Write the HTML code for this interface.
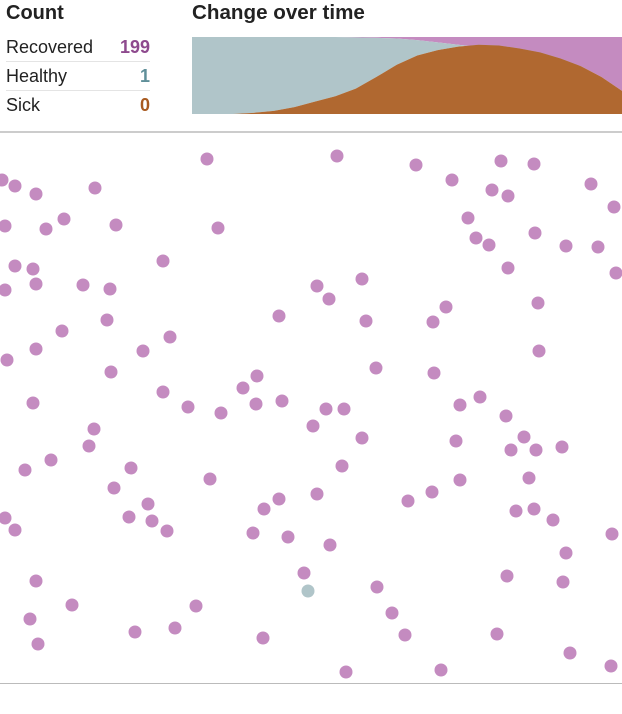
<!DOCTYPE html>
<html><head><meta charset="utf-8"><style>
body{margin:0;width:622px;height:714px;background:#fff;position:relative;overflow:hidden;font-family:"Liberation Sans Narrow","Liberation Sans",sans-serif;color:#222}
.h{position:absolute;top:2px;font-weight:bold;font-size:20px;transform-origin:0 0}
.row{position:absolute;left:6px;width:144px;height:28px;font-size:18px;line-height:28px;border-bottom:1px solid #e4e4e4}
.row b{position:absolute;right:0;top:0}
</style></head><body>
<div class="h" style="left:6px">Count</div>
<div class="h" style="left:192px;transform:scaleX(1.03)">Change over time</div>
<div class="row" style="top:33px">Recovered<b style="color:#8e4a8e">199</b></div>
<div class="row" style="top:62px">Healthy<b style="color:#5f8f99">1</b></div>
<div class="row" style="top:91px;border-bottom:none">Sick<b style="color:#a85a20">0</b></div>
<svg id="area" style="position:absolute;left:192px;top:37px" width="430" height="77"></svg>
<div style="position:absolute;left:0;top:131px;width:622px;height:2px;background:#ccc"></div>
<svg id="dots" style="position:absolute;left:0;top:0" width="622" height="714"></svg>
<div style="position:absolute;left:0;top:683px;width:622px;height:1px;background:#bbb"></div>
<script>
const total=200;
const sick=[0,0,0,3,8,18,32,46,66,96,128,152,166,175,180,178,170,160,144,124,96,60];
const recovered=[0,0,0,0,0,0,0,0,1,2,4,8,14,20,26,32,40,50,60,76,104,140];
const recoveredDots=[[207,159],[337,156],[416,165],[501,161],[534,164],[2,180],[15,186],[36,194],[95,188],[452,180],[492,190],[508,196],[591,184],[614,207],[5,226],[46,229],[64,219],[116,225],[218,228],[468,218],[476,238],[489,245],[535,233],[566,246],[598,247],[15,266],[33,269],[163,261],[508,268],[616,273],[5,290],[36,284],[83,285],[110,289],[317,286],[329,299],[362,279],[446,307],[433,322],[538,303],[107,320],[62,331],[279,316],[366,321],[170,337],[143,351],[36,349],[7,360],[539,351],[111,372],[376,368],[434,373],[243,388],[257,376],[163,392],[188,407],[221,413],[256,404],[282,401],[326,409],[344,409],[33,403],[460,405],[480,397],[506,416],[94,429],[89,446],[313,426],[362,438],[456,441],[524,437],[511,450],[536,450],[562,447],[25,470],[51,460],[131,468],[342,466],[210,479],[460,480],[529,478],[114,488],[148,504],[129,517],[152,521],[167,531],[317,494],[279,499],[264,509],[408,501],[432,492],[5,518],[15,530],[253,533],[288,537],[330,545],[516,511],[534,509],[553,520],[612,534],[566,553],[304,573],[377,587],[507,576],[563,582],[36,581],[72,605],[196,606],[30,619],[392,613],[135,632],[175,628],[263,638],[405,635],[497,634],[38,644],[570,653],[346,672],[441,670],[611,666]];
const healthyDots=[[308,591]];
const NS='http://www.w3.org/2000/svg';
const W=430,H=77,n=sick.length;
const x=i=>i*W/(n-1), y=v=>H-v/total*H;
const a=document.getElementById('area');
function area(lo,hi,color,name){
  let d='M'+x(0)+','+y(hi(0));
  for(let i=1;i<n;i++)d+='L'+x(i)+','+y(hi(i));
  for(let i=n-1;i>=0;i--)d+='L'+x(i)+','+y(lo(i));
  const p=document.createElementNS(NS,'path');
  p.setAttribute('d',d+'Z');p.setAttribute('fill',color);
  
  
  a.appendChild(p);
}
area(i=>total-recovered[i],i=>total,'#c48bc0','recovered-area');
area(i=>sick[i],i=>total-recovered[i],'#b0c5c9','healthy-area');
area(i=>0,i=>sick[i],'#b06830','sick-area');
const s=document.getElementById('dots');
function dot(pt,color,name){
  const c=document.createElementNS(NS,'circle');
  c.setAttribute('cx',pt[0]);c.setAttribute('cy',pt[1]);c.setAttribute('r',6.5);c.setAttribute('fill',color);
  
  
  s.appendChild(c);
}
recoveredDots.forEach(p=>dot(p,'#c48bc0','recovered-person'));
healthyDots.forEach(p=>dot(p,'#b0c5c9','healthy-person'));
</script>
</body></html>
